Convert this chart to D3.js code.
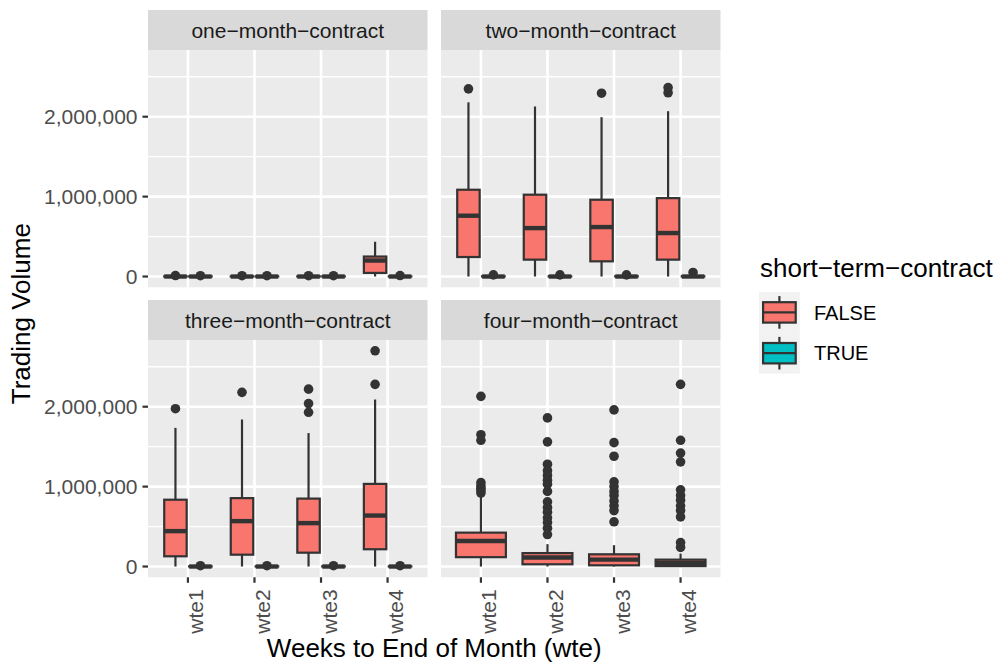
<!DOCTYPE html>
<html><head><meta charset="utf-8">
<script src="https://cdn.jsdelivr.net/npm/d3@7"></script>
<style>
body{margin:0;background:#fff}
svg{display:block}
text{font-family:"Liberation Sans",Arial,Helvetica,sans-serif}
</style>
</head><body><svg id="c" width="1000" height="668"></svg>
<script>
// ---------------- data ----------------
const panelNames = ["one\u2212month\u2212contract","two\u2212month\u2212contract","three\u2212month\u2212contract","four\u2212month\u2212contract"];
const weeks = ["wte1","wte2","wte3","wte4"];
const groups = ["FALSE","TRUE"];
const groupColors = ["#F8766D","#00BFC4"];
const yTicks = [0, 1000000, 2000000];
const yMinorTicks = [500000, 1500000, 2500000];
const legendTitle = "short\u2212term\u2212contract";
const xTitle = "Weeks to End of Month (wte)";
const yTitle = "Trading Volume";

// box stats per week: [lower whisker, q1, median, q3, upper whisker]
const oneMonthFalse = [[0,0,0,2000,5000],[0,0,0,2000,5000],[0,0,0,2000,5000],[0,45000,200000,250000,435000]];
const oneMonthFalseOut = [[12000],[10000],[10000],[]];
const oneMonthTrue = [[0,0,0,2000,5000],[0,0,0,2000,5000],[0,0,0,2000,5000],[0,0,0,2000,5000]];
const oneMonthTrueOut = [[10000],[10000],[10000],[12000]];

const twoMonthFalse = [[0,244000,761000,1086000,2180000],[0,211000,606000,1024000,2128000],[0,190000,619000,961000,1994000],[0,211000,544000,981000,2069000]];
const twoMonthFalseOut = [[2349000],[],[2294000],[2365000,2300000]];
const twoMonthTrue = [[0,0,0,3000,8000],[0,0,0,3000,8000],[0,0,0,3000,8000],[0,0,0,3000,8000]];
const twoMonthTrueOut = [[20000],[20000],[20000],[50000]];

const threeMonthFalse = [[0,128000,443000,836000,1735000],[0,148000,568000,856000,1840000],[0,173000,543000,850000,1670000],[0,216000,638000,1034000,2090000]];
const threeMonthFalseOut = [[1975000],[2180000],[2220000,2040000,1930000],[2700000,2280000]];
const threeMonthTrue = [[0,0,0,2000,5000],[0,0,0,2000,5000],[0,0,0,2000,5000],[0,0,0,2000,5000]];
const threeMonthTrueOut = [[10000],[10000],[10000],[10000]];

const fourMonthFalse = [[0,117000,319000,424000,875000],[0,28000,112000,168000,280000],[0,15000,86000,153000,267000],[0,5000,45000,86000,162000]];
const fourMonthFalseOut = [
  [2130000,1650000,1580000,1050000,1010000,980000,950000,920000],
  [1860000,1560000,1280000,1200000,1140000,1080000,1030000,940000,810000,740000,680000,610000,550000,480000,400000],
  [1960000,1550000,1380000,1060000,1000000,940000,890000,820000,760000,700000,560000],
  [2280000,1580000,1420000,1310000,960000,890000,830000,760000,700000,620000,300000,240000]
];

const panelSeries = [
  [{g:0, s:oneMonthFalse, o:oneMonthFalseOut},{g:1, s:oneMonthTrue, o:oneMonthTrueOut}],
  [{g:0, s:twoMonthFalse, o:twoMonthFalseOut},{g:1, s:twoMonthTrue, o:twoMonthTrueOut}],
  [{g:0, s:threeMonthFalse, o:threeMonthFalseOut},{g:1, s:threeMonthTrue, o:threeMonthTrueOut}],
  [{g:0, s:fourMonthFalse, o:fourMonthFalseOut}]
];

// ---------------- layout ----------------
const svg = d3.select("#c");
const colX = [148, 441], panelW = 279.5;
const stripTop = [10, 300], stripH = 40;
const panelTop = [50, 340], panelH = 237.3;
const dark = "#333333";

// shared y domain like ggplot (5% expansion of data range)
let allVals = [];
panelSeries.forEach(p => p.forEach(sr => { sr.s.forEach(a => allVals.push(...a)); sr.o.forEach(a => allVals.push(...a)); }));
const vmin = d3.min(allVals), vmax = d3.max(allVals), ext = (vmax - vmin) * 0.05;

panelNames.forEach((name, i) => {
  const col = i % 2, row = Math.floor(i / 2);
  const x0 = colX[col], top = panelTop[row];
  const x = d3.scalePoint().domain(weeks).range([x0, x0 + panelW]).padding(0.6);
  const y = d3.scaleLinear().domain([vmin - ext, vmax + ext]).range([top + panelH, top]);
  const step = x.step();
  const g = svg.append("g");

  // strip
  g.append("rect").attr("x", x0).attr("y", stripTop[row]).attr("width", panelW).attr("height", stripH).attr("fill", "#D9D9D9");
  g.append("text").attr("x", x0 + panelW / 2).attr("y", stripTop[row] + stripH / 2).attr("dy", "0.36em")
    .attr("text-anchor", "middle").attr("font-size", 21).attr("fill", "#1A1A1A").text(name);

  // panel background + grid
  g.append("rect").attr("x", x0).attr("y", top).attr("width", panelW).attr("height", panelH).attr("fill", "#EBEBEB");
  yMinorTicks.forEach(t => g.append("line").attr("x1", x0).attr("x2", x0 + panelW).attr("y1", y(t)).attr("y2", y(t)).attr("stroke", "#fff").attr("stroke-width", 1.3));
  yTicks.forEach(t => g.append("line").attr("x1", x0).attr("x2", x0 + panelW).attr("y1", y(t)).attr("y2", y(t)).attr("stroke", "#fff").attr("stroke-width", 2.6));
  weeks.forEach(w => g.append("line").attr("x1", x(w)).attr("x2", x(w)).attr("y1", top).attr("y2", top + panelH).attr("stroke", "#fff").attr("stroke-width", 2.6));

  // boxes
  const series = panelSeries[i];
  const n = series.length;
  const dodgeW = 0.75 * step / n;
  const boxW = n > 1 ? dodgeW * 0.9 : dodgeW;
  series.forEach((sr, k) => {
    weeks.forEach((w, j) => {
      const cx = x(w) - 0.75 * step / 2 + dodgeW * (k + 0.5);
      const [lo, q1, med, q3, hi] = sr.s[j];
      const bg = g.append("g");
      sr.o[j].forEach(v => bg.append("circle").attr("cx", cx).attr("cy", y(v)).attr("r", 4.8).attr("fill", dark));
      bg.append("line").attr("x1", cx).attr("x2", cx).attr("y1", y(hi)).attr("y2", y(q3)).attr("stroke", dark).attr("stroke-width", 2.2);
      bg.append("line").attr("x1", cx).attr("x2", cx).attr("y1", y(q1)).attr("y2", y(lo)).attr("stroke", dark).attr("stroke-width", 2.2);
      bg.append("rect").attr("x", cx - boxW / 2).attr("y", y(q3)).attr("width", boxW).attr("height", Math.max(0, y(q1) - y(q3)))
        .attr("fill", groupColors[sr.g]).attr("stroke", dark).attr("stroke-width", 2.2);
      bg.append("line").attr("x1", cx - boxW / 2).attr("x2", cx + boxW / 2).attr("y1", y(med)).attr("y2", y(med)).attr("stroke", dark).attr("stroke-width", 4.4);
    });
  });

  // y axis on left column
  if (col === 0) {
    yTicks.forEach(t => {
      g.append("line").attr("x1", x0 - 5.5).attr("x2", x0).attr("y1", y(t)).attr("y2", y(t)).attr("stroke", dark).attr("stroke-width", 2.2);
      g.append("text").attr("x", x0 - 10.5).attr("y", y(t)).attr("dy", "0.36em").attr("text-anchor", "end")
        .attr("font-size", 21).attr("fill", "#4D4D4D").text(d3.format(",")(t));
    });
  }
  // x axis on bottom row
  if (row === 1) {
    const yb = top + panelH;
    weeks.forEach(w => {
      g.append("line").attr("x1", x(w)).attr("x2", x(w)).attr("y1", yb).attr("y2", yb + 5.5).attr("stroke", dark).attr("stroke-width", 2.2);
      g.append("text").attr("transform", `translate(${x(w)},${yb + 12}) rotate(-90)`).attr("dy", "0.74em")
        .attr("text-anchor", "end").attr("font-size", 21).attr("fill", "#4D4D4D").text(w);
    });
  }
});

// axis titles
svg.append("text").attr("x", (colX[0] + colX[1] + panelW) / 2).attr("y", 657).attr("text-anchor", "middle")
  .attr("font-size", 26).attr("fill", "#000").text(xTitle);
svg.append("text").attr("transform", `translate(30,${(panelTop[0] + panelTop[1] + panelH) / 2}) rotate(-90)`)
  .attr("text-anchor", "middle").attr("font-size", 26).attr("fill", "#000").text(yTitle);

// legend
const lg = svg.append("g");
lg.append("text").attr("x", 760).attr("y", 277).attr("font-size", 26).attr("fill", "#000").text(legendTitle);
const keyS = 40.8, keyX = 759, keyY = 292;
groups.forEach((grp, k) => {
  const ky = keyY + k * keyS;
  lg.append("rect").attr("x", keyX).attr("y", ky).attr("width", keyS).attr("height", keyS).attr("fill", "#F2F2F2");
  const cx = keyX + keyS / 2;
  lg.append("line").attr("x1", cx).attr("x2", cx).attr("y1", ky + keyS * 0.1).attr("y2", ky + keyS * 0.25).attr("stroke", dark).attr("stroke-width", 2.2);
  lg.append("line").attr("x1", cx).attr("x2", cx).attr("y1", ky + keyS * 0.75).attr("y2", ky + keyS * 0.9).attr("stroke", dark).attr("stroke-width", 2.2);
  lg.append("rect").attr("x", keyX + keyS * 0.1).attr("y", ky + keyS * 0.25).attr("width", keyS * 0.8).attr("height", keyS * 0.5)
    .attr("fill", groupColors[k]).attr("stroke", dark).attr("stroke-width", 2.2);
  lg.append("line").attr("x1", keyX + keyS * 0.1).attr("x2", keyX + keyS * 0.9).attr("y1", ky + keyS / 2).attr("y2", ky + keyS / 2).attr("stroke", dark).attr("stroke-width", 2.2);
  lg.append("text").attr("x", 814).attr("y", ky + keyS / 2).attr("dy", "0.36em").attr("font-size", 20).attr("fill", "#000").text(grp);
});
</script>
</body></html>
